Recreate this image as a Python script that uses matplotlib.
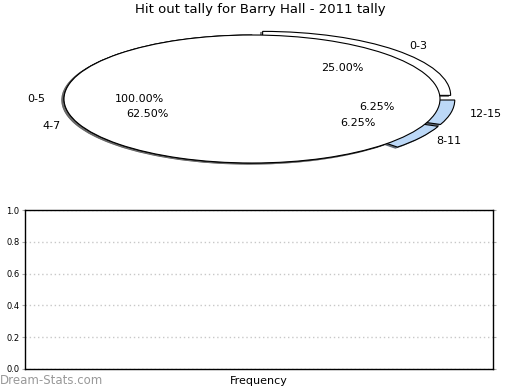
import matplotlib
matplotlib.use("Agg")
import matplotlib.pyplot as plt

title = "Hit out tally for Barry Hall - 2011 tally"
outer_labels = ["0-5"]
outer_values = [100.0]
inner_labels = ["0-3", "4-7", "8-11", "12-15"]
inner_values = [25.0, 62.5, 6.25, 6.25]
inner_colors = ["white", "white", "#bcd8f7", "#bcd8f7"]
inner_explode = [0.08, 0.0, 0.08, 0.08]
y_ticks = [0.0, 0.2, 0.4, 0.6, 0.8, 1.0]

fig = plt.figure(figsize=(5.2, 3.9), dpi=100)

shadow_style = dict(ox=-0.008, oy=-0.012, shade=0.6, alpha=0.8)
ax1 = fig.add_axes([17/520, 1 - 179/390, 470/520, 160/390])
ax1.pie(inner_values, labels=inner_labels, colors=inner_colors, explode=inner_explode,
        autopct="%.2f%%", startangle=0, shadow=shadow_style,
        wedgeprops=dict(edgecolor="black", linewidth=0.8),
        textprops=dict(fontsize=8))
ax1.pie(outer_values, labels=outer_labels, colors=["white"], autopct="%.2f%%",
        startangle=0, shadow=shadow_style,
        wedgeprops=dict(edgecolor="black", linewidth=0.8),
        textprops=dict(fontsize=8))
ax1.set_aspect("auto")
ax1.set_xlim(-1.25, 1.25)
ax1.set_ylim(-1.25, 1.25)
fig.text(260/520, 1 - 10/390, title, ha="center", va="center", fontsize=9.5)

ax2 = fig.add_axes([25/520, 1 - 369/390, 468/520, 159/390])
ax2.set_ylim(0, 1)
ax2.set_yticks(y_ticks)
ax2.set_yticklabels([f"{v:.1f}" for v in y_ticks], fontsize=6)
ax2.set_xticks([])
ax2.tick_params(axis="y", length=2, color="#aaaaaa", right=True, pad=2)
ax2.grid(axis="y", color="#c8c8c8", linestyle=(0, (1, 2)), linewidth=1)
for s in ax2.spines.values():
    s.set_linewidth(1)
ax2.set_xlabel("Frequency", fontsize=8, labelpad=5)
ax2.set_ylabel("Stat Intervals", fontsize=8, labelpad=2)
fig.text(0, 1 - 380/390, "Dream-Stats.com", ha="left", va="center", fontsize=8.5,
         color="#999999")

fig.savefig("out.png", dpi=100)
